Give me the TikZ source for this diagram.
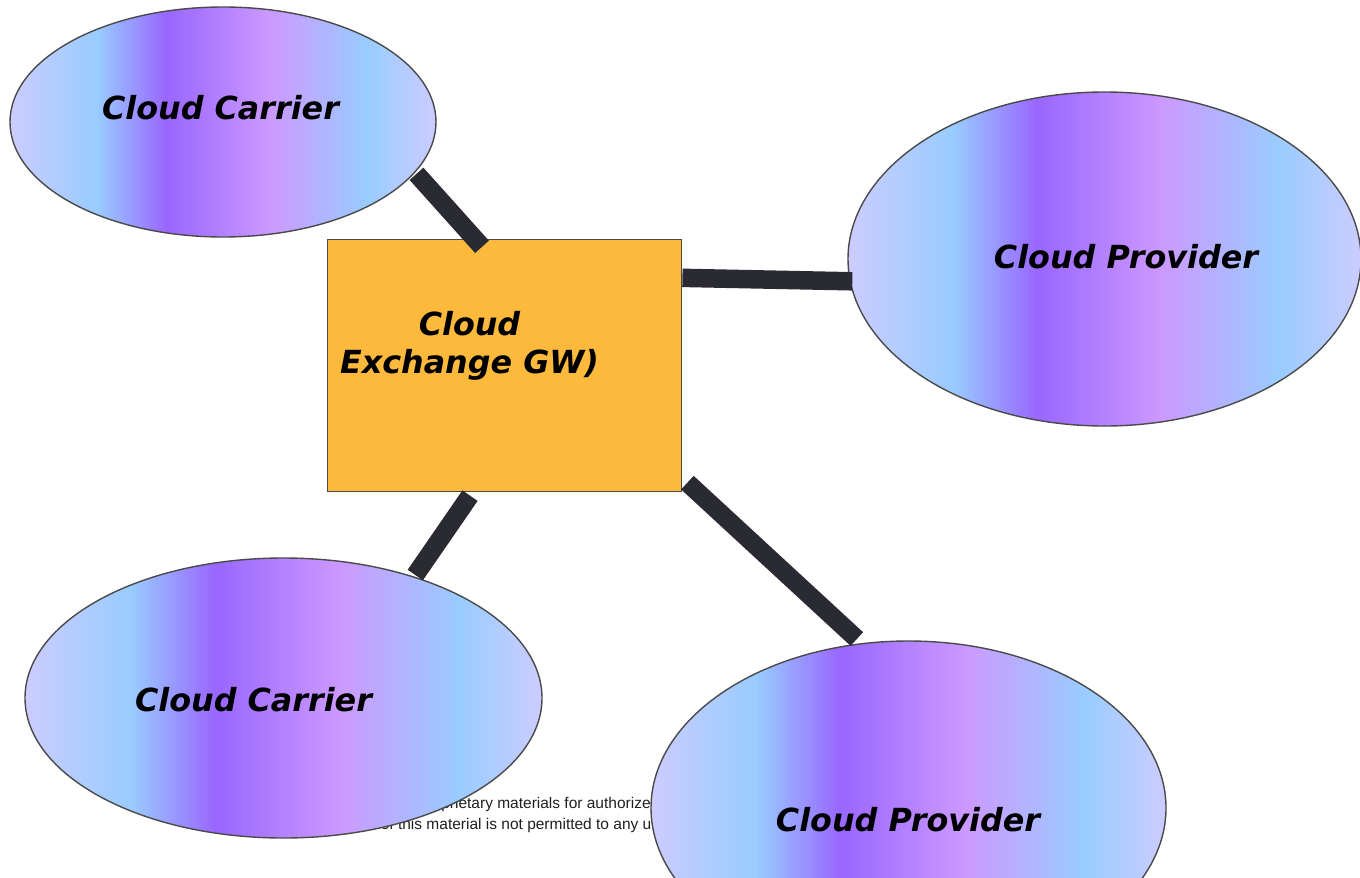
\documentclass[tikz,border=0pt]{standalone}
\usepackage{fontspec}
\setmainfont{DejaVu Sans}
\newfontfamily\footfont{Liberation Sans}
\usetikzlibrary{shapes.geometric}
\definecolor{cLav}{HTML}{CCCCFF}
\definecolor{cBlue}{HTML}{99CCFF}
\definecolor{cPurp}{HTML}{9966FF}
\definecolor{cPink}{HTML}{CC99FF}
\definecolor{gwFill}{HTML}{FDB93C}
\definecolor{linkCol}{HTML}{2A2A33}
\definecolor{edgeCol}{HTML}{4A4A4A}
\pgfdeclarehorizontalshading{cloudgrad}{100bp}{color(0bp)=(cLav); color(25bp)=(cLav); color(35.2bp)=(cBlue); color(43.4bp)=(cPurp); color(55.5bp)=(cPink); color(67bp)=(cBlue); color(75bp)=(cLav); color(100bp)=(cLav)}
\tikzset{
  cloudnode/.style={ellipse, draw=edgeCol, line width=1.4pt, shade, shading=cloudgrad, inner sep=0pt},
  lbl/.style={font=\fontsize{31.8}{38.5}\selectfont\bfseries\itshape, inner sep=0pt},
  link/.style={line width=18.5pt, draw=linkCol},
  gwbox/.style={rectangle, draw=edgeCol, line width=0.8pt, fill=gwFill, inner sep=0pt},
  foot/.style={font=\footfont\fontsize{15.5}{20}\selectfont, anchor=base west, text=black!88, inner sep=0pt}
}
\begin{document}
\begin{tikzpicture}[x=1pt,y=-1pt]
\useasboundingbox (0,0) rectangle (1360,878);
% footer text (partly hidden by the ellipses)
\node[foot] (f1) at (417,808) {Proprietary materials for authorized use only};
\node[foot] (f2) at (304,829) {Disclosure of this material is not permitted to any unauthorized party};
% ellipses
\node[cloudnode, minimum width=426, minimum height=230] (cc1) at (223,122) {};
\node[cloudnode, minimum width=513, minimum height=334] (cp2) at (1104.5,259) {};
\node[cloudnode, minimum width=517, minimum height=280] (cc3) at (283.5,698) {};
\node[cloudnode, minimum width=515, minimum height=334] (cp4) at (908.5,808) {};
% gateway box
\node[gwbox, minimum width=354, minimum height=252.5] (gw) at (504.5,365.5) {};
% connectors
\draw[link] ([shift={(2,0.5)}]cc1.-15.4) -- ([shift={(-22.5,8)}]gw.north);
\draw[link] ([shift={(0.5,39)}]gw.north east) -- ([shift={(2.7,0)}]cp2.185);
\draw[link] ([shift={(-34.5,3.5)}]gw.south) -- ([shift={(1.4,-1.4)}]cc3.43.5);
\draw[link] ([shift={(5.5,-9.5)}]gw.south east) -- ([shift={(-1.4,-4.5)}]cp4.107.7);
% labels
\node[lbl, anchor=base] (t1) at (220.5,119) {Cloud Carrier};
\node[lbl, anchor=base] (t2) at (1126,268) {Cloud Provider};
\node[lbl, anchor=base] (t3) at (253.5,711) {Cloud Carrier};
\node[lbl, anchor=base] (t4) at (908,831) {Cloud Provider};
\node[lbl, align=center] (tg) at (469.5,346) {Cloud\\Exchange GW)};
\end{tikzpicture}
\end{document}
